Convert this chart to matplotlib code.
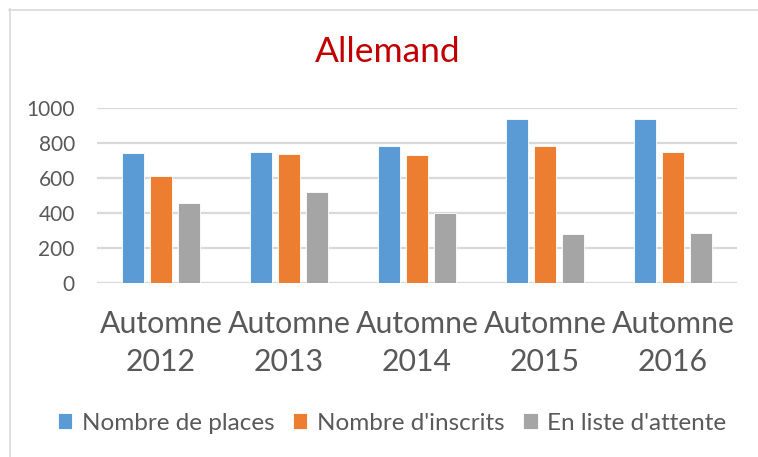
import matplotlib.pyplot as plt
import numpy as np
from matplotlib.lines import Line2D

categories = ["Automne\n2012", "Automne\n2013", "Automne\n2014", "Automne\n2015", "Automne\n2016"]
places = [739, 745, 781, 933, 937]
inscrits = [610, 733, 731, 783, 747]
attente = [457, 518, 398, 280, 284]
series_names = ["Nombre de places", "Nombre d'inscrits", "En liste d'attente"]
colors = ["#5B9BD5", "#ED7D31", "#A5A5A5"]
yticks = [0, 200, 400, 600, 800, 1000]

plt.rcParams['font.family'] = ['Lato', 'DejaVu Sans']
W, H = 758, 457
fig = plt.figure(figsize=(W / 100, H / 100), dpi=100)

ax = fig.add_axes([97 / W, 1 - 282.7 / H, 640 / W, 175 / H])
x = np.arange(len(categories))
bw = 0.172
offs = [-0.219, 0, 0.219]
for vals, off, c, name in zip([places, inscrits, attente], offs, colors, series_names):
    ax.bar(x + off, vals, width=bw, color=c, label=name, zorder=3,
           edgecolor="white", linewidth=0.6)

ax.set_xlim(-0.5, len(categories) - 0.5)
ax.set_ylim(0, 1000)
ax.set_yticks(yticks)
ax.set_xticks(x)
ax.set_xticklabels(categories, fontsize=21.8, color="#595959", linespacing=1.4)
ax.tick_params(axis="x", length=0, pad=20)
ax.tick_params(axis="y", length=0, pad=16, labelsize=15, labelcolor="#595959")
for sp in ax.spines.values():
    sp.set_visible(False)
ax.grid(axis="y", color="#D9D9D9", linewidth=1.6, zorder=0)
ax.set_axisbelow(True)

fig.text(388 / W, 1 - 52 / H, "Allemand", ha="center", va="center",
         fontsize=25.5, color="#C00000")

fig.legend(loc="center", bbox_to_anchor=(392 / W, 1 - 423 / H), ncol=3, frameon=False,
           fontsize=17.5, labelcolor="#595959", handlelength=0.6, handleheight=0.6,
           handletextpad=0.4, columnspacing=0.75)

fig.add_artist(Line2D([9 / W, 1], [1 - 9.5 / H, 1 - 9.5 / H], transform=fig.transFigure,
                      color="#D9D9D9", linewidth=1.2))
fig.add_artist(Line2D([9.5 / W, 9.5 / W], [0, 1 - 9 / H], transform=fig.transFigure,
                      color="#D9D9D9", linewidth=1.2))

fig.savefig("out.png", dpi=100)
